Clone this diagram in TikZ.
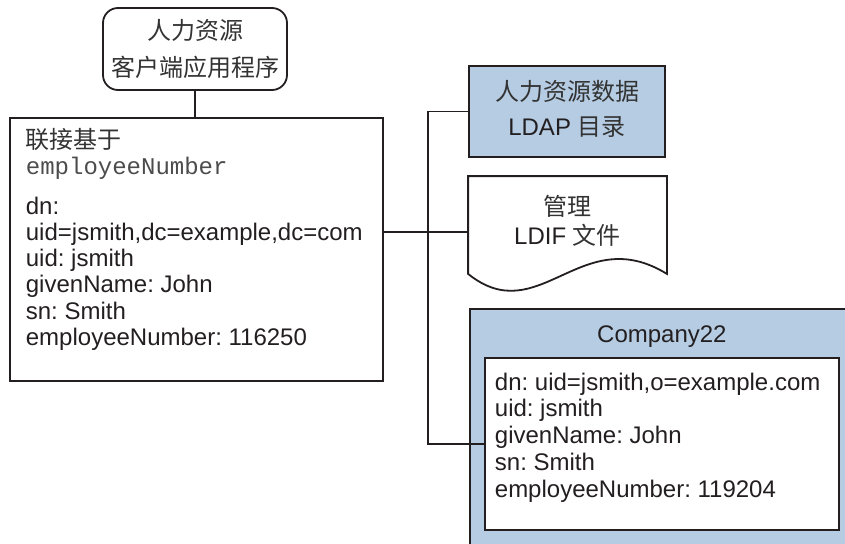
\documentclass[tikz,border=0pt]{standalone}
\usepackage{fontspec}
\setmainfont{Liberation Sans}
\setmonofont{Liberation Mono}
\newfontfamily\cjk{Noto Sans CJK SC}
\usetikzlibrary{positioning}
\definecolor{dirblue}{RGB}{181,204,227}
\definecolor{ink}{RGB}{35,31,32}
\newcommand{\zh}[1]{{\cjk\color{black!80}#1}}
\frenchspacing

\begin{document}
\begin{tikzpicture}[x=1pt, y=-1pt, line width=1.8pt, color=ink,
	font=\fontsize{24}{26.2}\selectfont,
	box/.style={draw, rectangle, inner sep=0pt},
	plain/.style={align=left, inner sep=0pt, anchor=north west}]
		\useasboundingbox (0,0) rectangle (845,543);
		\clip (0,0) rectangle (845,543);
		
		% client and join entry
		\node[box, rounded corners=15pt, minimum width=184, minimum height=82, align=center,
			font=\fontsize{24}{37}\selectfont] (client) at (195,49) {\zh{人力资源}\\\zh{客户端应用程序}};
		\node[box, anchor=north west, minimum width=373, minimum height=263] (join) at (9,117) {};
		\node[plain] (joinText) at (25,127) {\zh{联接基于}\\{\ttfamily\color{black!70}employeeNumber}\\[13.8pt]dn:\\uid=jsmith,dc=example,dc=com\\uid: jsmith\\givenName: John\\sn: Smith\\employeeNumber: 116250};
		\draw (client.south) -- (client.south |- join.north);
		
		% targets
		\node[box, fill=dirblue, minimum width=196, minimum height=91, align=center, text depth=8pt,
			font=\fontsize{24}{35}\selectfont] (ldap) at (567,111.5) {\zh{人力资源数据}\\LDAP \zh{目录}};
		
		\node[minimum width=197, minimum height=96, inner sep=0pt, align=center, text depth=11pt,
			font=\fontsize{24}{29}\selectfont] (ldif) at (567.5,225) {\zh{管理}\\LDIF \zh{文件}};
		\draw (ldif.north west) -- (ldif.north east) -- (ldif.south east)
			.. controls +(-86,-53) and +(71,57) .. (ldif.south west) -- cycle;
		
		\node[box, fill=dirblue, anchor=north west, minimum width=384, minimum height=260] (company) at (469,308) {};
		\node[below=17pt of company.north, inner sep=0pt] (companyTitle) {Company22};
		\node[box, fill=white, anchor=north west, minimum width=354, minimum height=172] (entry) at (484,357) {};
		\node[plain, font=\fontsize{24}{26.7}\selectfont] (entryText) at (494,372) {dn: uid=jsmith,o=example.com\\uid: jsmith\\givenName: John\\sn: Smith\\employeeNumber: 119204};
		
		% connectors
		\coordinate (bus) at (428,0);
		\coordinate (tap) at (join.east |- 0,232);
		\draw (ldap.west) -| (bus |- entry.west) -- (entry.west);
		\draw (tap) -- (tap -| ldif.west);
	\end{tikzpicture}
\end{document}
